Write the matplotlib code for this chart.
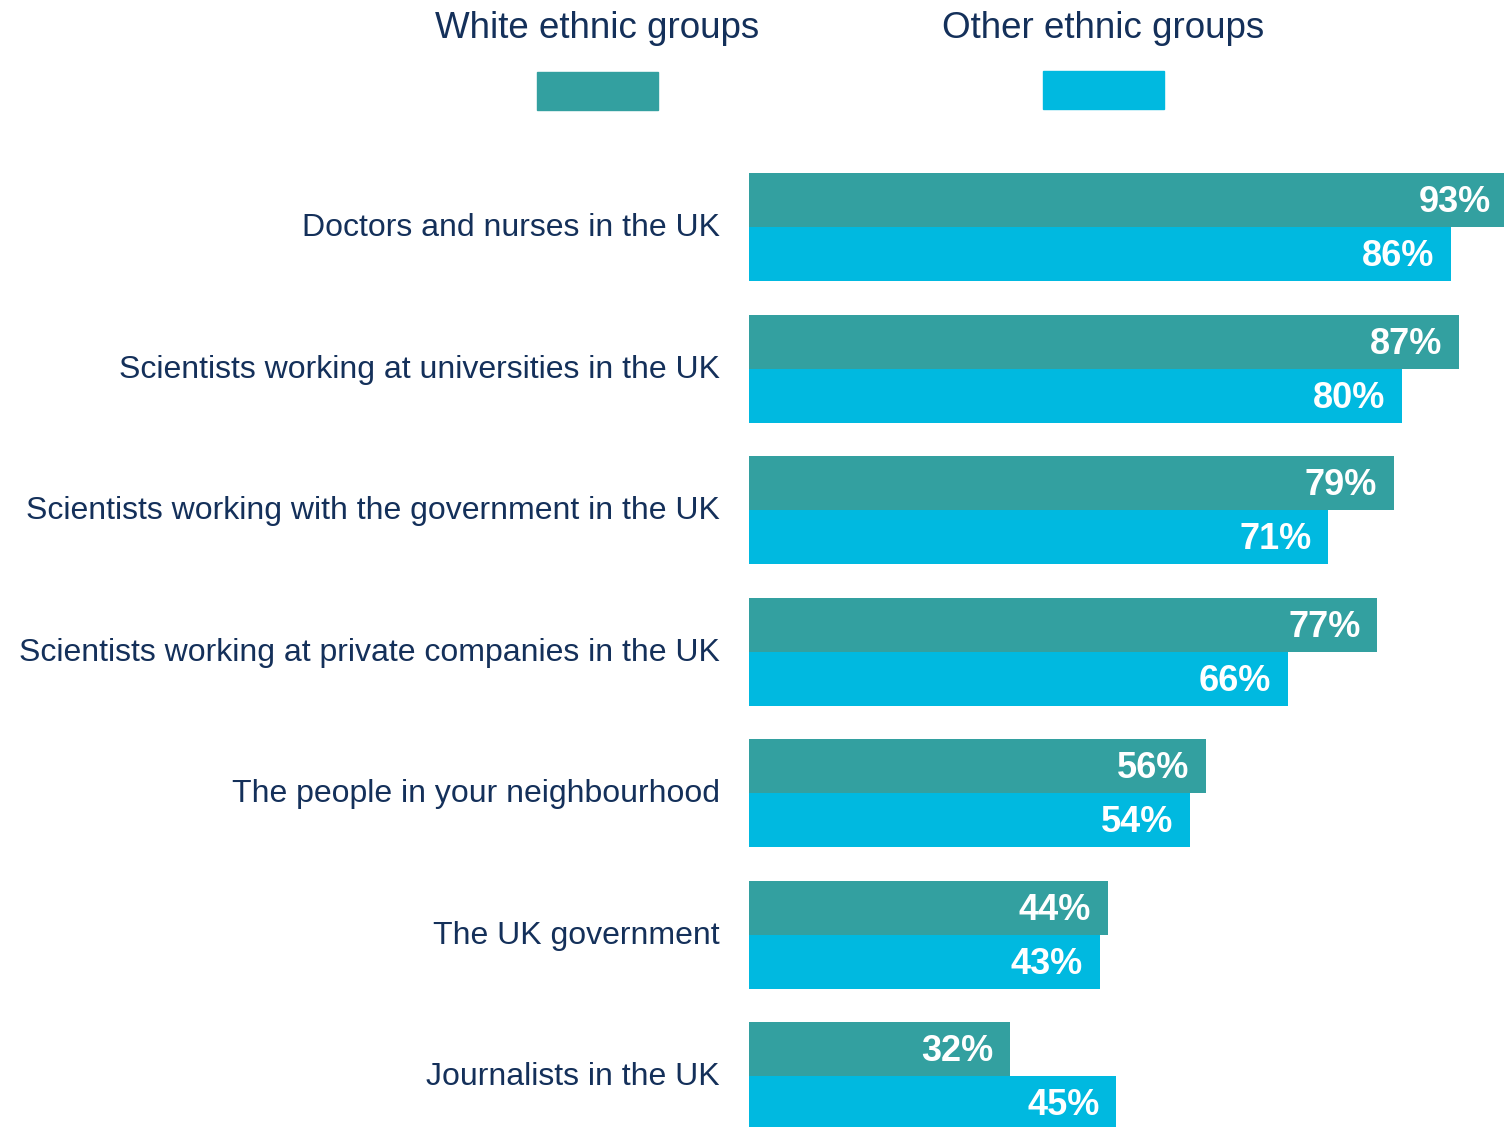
import matplotlib.pyplot as plt
import numpy as np
from matplotlib.patches import Rectangle

categories = [
    "Doctors and nurses in the UK",
    "Scientists working at universities in the UK",
    "Scientists working with the government in the UK",
    "Scientists working at private companies in the UK",
    "The people in your neighbourhood",
    "The UK government",
    "Journalists in the UK",
]
white = [93, 87, 79, 77, 56, 44, 32]
other = [86, 80, 71, 66, 54, 43, 45]
series_names = ["White ethnic groups", "Other ethnic groups"]

c_white = "#33A0A0"
c_other = "#00B9E0"
navy = "#14305A"

plt.rcParams["font.family"] = ["Liberation Sans", "DejaVu Sans"]

W, H = 1504, 1127
fig = plt.figure(figsize=(W / 100, H / 100), dpi=100)
# axes box in pixels: left 749, top 173, right edge of figure, bottom edge of figure
ax = fig.add_axes([749 / W, 0, 1 - 749 / W, (H - 173) / H])

h = 54 / 141.5
y = np.arange(len(categories))
# y axis is inverted, so a negative height puts the bar above the group line
ax.barh(y, white, height=-h, align="edge", color=c_white)
ax.barh(y, other, height=h, align="edge", color=c_other)
ax.set_xlim(0, 755 / 8.16)
ax.set_ylim(y[-1] + (1127 - 1076) / 141.5, -h)

for i in range(len(categories)):
    ax.annotate(f"{white[i]}%", (white[i], y[i] - h / 2), xytext=(-12, -2),
                textcoords="offset points", ha="right", va="center",
                color="white", fontsize=26, fontweight="bold",
                annotation_clip=False)
    ax.annotate(f"{other[i]}%", (other[i], y[i] + h / 2), xytext=(-12, -2),
                textcoords="offset points", ha="right", va="center",
                color="white", fontsize=26, fontweight="bold",
                annotation_clip=False)
    ax.annotate(categories[i], (0, y[i]), xytext=(-21, -1),
                textcoords="offset points", ha="right", va="center",
                color=navy, fontsize=23, annotation_clip=False)

ax.axis("off")

# legend on top
for name, col, cx, ty in [(series_names[0], c_white, 597.5, 72),
                          (series_names[1], c_other, 1103.5, 71)]:
    fig.text(cx / W, 1 - 28 / H, name, ha="center", va="center",
             color=navy, fontsize=26.5)
    fig.patches.append(Rectangle(((cx - 60.5) / W, 1 - (ty + 38) / H),
                                 121 / W, 38 / H, transform=fig.transFigure,
                                 color=col))

fig.savefig("out.png", dpi=100)
